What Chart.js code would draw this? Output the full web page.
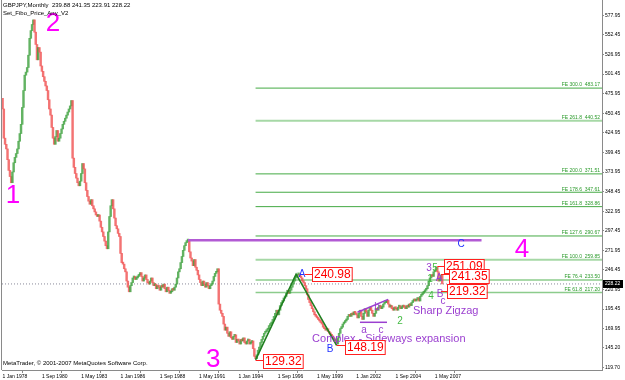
<!DOCTYPE html>
<html>
<head>
<meta charset="utf-8">
<script src="https://cdn.jsdelivr.net/npm/chart.js@4/dist/chart.umd.min.js"></script>
<style>
  html, body { margin: 0; padding: 0; background: #fff; }
  #wrap { width: 625px; height: 380px; }
</style>
</head>
<body>
<div id="wrap"><canvas id="chart" width="625" height="380"></canvas></div>
<script>
// GBPJPY monthly closes, Jan 1978 .. Nov 2007
const firstOpen = 470;
const closes = [
  456, 418, 410, 404, 390, 376, 368, 360, 374, 386, 393, 398,
  404, 414, 424, 436, 458, 480, 500, 504, 510, 526, 548, 558,
  566, 572, 556, 540, 520, 536, 530, 512, 505, 498, 492, 486,
  480, 468, 456, 448, 432, 418, 410, 420, 428, 414, 418, 424,
  430, 436, 440, 444, 448, 452, 456, 460, 467, 392, 380, 372,
  366, 360, 356, 362, 372, 385, 378, 360, 350, 342, 336, 332,
  338, 330, 326, 322, 318, 316, 318, 310, 302, 296, 290, 284,
  278, 274, 296, 316, 330, 338, 326, 314, 304, 300, 294, 290,
  268, 256, 254, 248, 244, 232, 224, 218, 226, 230, 236, 238,
  234, 236, 238, 240, 243, 238, 232, 236, 240, 234, 230, 228,
  232, 236, 230, 226, 228, 222, 226, 224, 220, 226, 224, 228,
  222, 218, 224, 220, 216, 218, 222, 220, 224, 228, 236, 244,
  248, 256, 264, 272, 278, 282, 284, 285, 270, 262, 258, 252,
  260, 250, 246, 240, 234, 230, 226, 232, 228, 224, 230, 226,
  222, 226, 228, 232, 238, 242, 244, 248, 202, 194, 190, 186,
  176, 168, 172, 164, 160, 166, 158, 156, 160, 162, 152, 156,
  154, 150, 156, 154, 158, 152, 150, 154, 156, 150, 152, 154,
  144, 134, 131, 136, 142, 146, 152, 156, 160, 164, 166, 168,
  170, 174, 176, 178, 182, 186, 190, 194, 188, 194, 200, 204,
  206, 210, 212, 216, 220, 216, 220, 224, 228, 232, 236, 238,
  240, 241, 238, 236, 232, 230, 226, 222, 214, 208, 204, 200,
  196, 192, 188, 186, 184, 182, 180, 178, 176, 172, 170, 168,
  170, 166, 164, 162, 160, 158, 154, 156, 150, 158, 164, 170,
  172, 176, 178, 180, 182, 186, 188, 186, 190, 188, 192, 190,
  188, 184, 190, 194, 186, 182, 190, 196, 192, 186, 194, 198,
  194, 190, 186, 190, 196, 194, 198, 200, 196, 198, 202, 204,
  204, 207, 202, 198, 200, 196, 194, 198, 196, 194, 198, 200,
  196, 198, 200, 198, 196, 200, 198, 202, 200, 204, 206, 208,
  206, 208, 210, 206, 212, 214, 216, 218, 220, 222, 226, 232,
  236, 240, 238, 244, 246, 250, 244, 232, 236, 239.88, 228.22
];
const lastPrice = 228.22;

const xTickIdx = [0, 32, 64, 96, 128, 160, 192, 224, 256, 288, 320, 352];
const xTickLabels = ['1 Jan 1978', '1 Sep 1980', '1 May 1983', '1 Jan 1986', '1 Sep 1988', '1 May 1991',
  '1 Jan 1994', '1 Sep 1996', '1 May 1999', '1 Jan 2002', '1 Sep 2004', '1 May 2007'];
const yTicks = [577.95, 552.45, 526.95, 501.45, 475.95, 450.45, 424.95, 399.45, 373.95, 348.45,
  322.95, 297.45, 271.95, 246.45, 220.95, 195.45, 169.95, 145.20, 119.70];

// Fibonacci expansion levels
const feRatios = ['300.0', '261.8', '200.0', '178.6', '161.8', '127.6', '100.0', '76.4', '61.8'];
const feLevels = [483.17, 440.52, 371.51, 347.61, 328.86, 290.67, 259.85, 233.50, 217.20];
const feStartIdx = 206;

// wave pivots (month index, price)
const zigzagIdx = [206, 239, 272];
const zigzagVals = [129.32, 240.98, 148.19];
const cLineIdx = [151, 390];
const cLineVal = 285;
const triUpperIdx = [289, 314];
const triUpperVals = [191.3, 208.2];
const triLowerIdx = [291, 313];
const triLowerVals = [178.3, 178.3];

// price boxes
const boxTexts = ['129.32', '240.98', '148.19', '251.09', '241.35', '219.32'];
const boxIdx = [206, 246, 272, 354, 357, 357];
const boxVals = [129.32, 240.98, 148.19, 251.09, 241.35, 219.32];

const xMin = -0.49, xMax = 488.1;
const yMin = 116.19, yMax = 597.87;
const FONT = '"Liberation Sans", Arial, sans-serif';

const candleData = closes.map((c, i) => ({ x: i, y: [i === 0 ? firstOpen : closes[i - 1], c] }));
const candleColors = candleData.map(d => d.y[1] >= d.y[0] ? 'rgba(60,160,60,0.8)' : 'rgba(240,80,80,0.8)');

function hline(v, a, b) { return [{ x: a, y: v }, { x: b, y: v }]; }
function lineSet(data, color, width, order, dash) {
  return { type: 'line', data: data, borderColor: color, borderWidth: width, pointRadius: 0,
    fill: false, tension: 0, order: order, borderDash: dash || [] };
}

const feStyles = feLevels.map((v, k) => {
  if (k === 1 || k === 6) return ['#a6d8a6', 2];
  if (k === 7 || k === 8) return ['#8ccc8c', 1.5];
  return ['#44aa44', 1];
});

const datasets = [
  { type: 'bar', data: candleData, backgroundColor: candleColors, barThickness: 1.8,
    minBarLength: 2, order: 5 }
];
feLevels.forEach((v, k) => datasets.push(lineSet(hline(v, feStartIdx, xMax), feStyles[k][0], feStyles[k][1], 10)));
datasets.push(lineSet(hline(lastPrice, xMin, xMax), '#8a8a9a', 1, 11, [1, 2]));
datasets.push(lineSet(hline(cLineVal, cLineIdx[0], cLineIdx[1]), '#b25ad4', 2.5, 3));
datasets.push(lineSet(zigzagIdx.map((x, k) => ({ x: x, y: zigzagVals[k] })), '#1f7f1f', 1.6, 2));
datasets.push(lineSet(triUpperIdx.map((x, k) => ({ x: x, y: triUpperVals[k] })), '#9b3fd0', 1.5, 2));
datasets.push(lineSet(triLowerIdx.map((x, k) => ({ x: x, y: triLowerVals[k] })), '#9b3fd0', 1.5, 2));

// text notes: text, month index, price, colour, size
const notes = [
  ['1', 8.5, 342.7, '#ff00ff', 26], ['2', 41, 566.6, '#ff00ff', 26],
  ['3', 171.5, 130, '#ff00ff', 26], ['4', 423, 272.4, '#ff00ff', 26],
  ['A', 243.8, 241.2, '#2233ff', 10], ['B', 266.6, 143.6, '#2233ff', 10], ['C', 373.3, 280.2, '#2233ff', 10],
  ['2', 323.6, 179.9, '#44bb44', 10],
  ['a', 294.3, 168.3, '#9b3fd0', 10], ['b', 304.9, 198.2, '#9b3fd0', 10], ['c', 308.1, 168.3, '#9b3fd0', 10],
  ['3', 347.2, 248.5, '#9b3fd0', 10], ['5', 352.1, 248.5, '#44bb44', 10],
  ['1', 348, 234.5, '#44bb44', 10], ['A', 355.4, 235.5, '#9b3fd0', 10],
  ['4', 348.9, 212.7, '#44bb44', 10], ['B', 356.2, 215.3, '#9b3fd0', 10], ['c', 358.6, 205.5, '#9b3fd0', 10]
];
const captions = [
  ['Complex - Sideways expansion', 252, 156.7],
  ['Sharp Zigzag', 334.2, 192.6]
];

const overlay = {
  id: 'overlay',
  beforeDatasetsDraw(chart) {
    const { ctx, chartArea: a } = chart;
    ctx.save();
    ctx.strokeStyle = '#8a8a8a';
    ctx.lineWidth = 1;
    ctx.beginPath();
    ctx.moveTo(a.left - 0.5, a.top);
    ctx.lineTo(a.left - 0.5, a.bottom);
    ctx.stroke();
    ctx.restore();
  },
  afterDatasetsDraw(chart) {
    const { ctx, chartArea: a, scales: { x, y } } = chart;
    ctx.save();
    // FE labels
    ctx.font = '5px ' + FONT;
    ctx.fillStyle = '#2a9a2a';
    ctx.textAlign = 'right';
    ctx.textBaseline = 'bottom';
    feLevels.forEach((v, k) => {
      ctx.fillText('FE ' + feRatios[k] + '  ' + v.toFixed(2), a.right - 2, y.getPixelForValue(v) - 0.5);
    });
    // wave notes
    ctx.textAlign = 'center';
    ctx.textBaseline = 'middle';
    notes.forEach(n => {
      ctx.font = n[4] + 'px ' + FONT;
      ctx.fillStyle = n[3];
      ctx.fillText(n[0], x.getPixelForValue(n[1]), y.getPixelForValue(n[2]));
    });
    ctx.font = '11px ' + FONT;
    ctx.fillStyle = '#9b3fd0';
    ctx.textAlign = 'left';
    captions.forEach(c => ctx.fillText(c[0], x.getPixelForValue(c[1]), y.getPixelForValue(c[2])));
    // price boxes
    const dxs = [7, 7, 8, 7, 8, 6], dys = [1, 0, 2, 0, 2, 0];
    ctx.font = '12px ' + FONT;
    boxTexts.forEach((t, k) => {
      const px = x.getPixelForValue(boxIdx[k]), py = y.getPixelForValue(boxVals[k]);
      const w = ctx.measureText(t).width + 3, h = 14;
      const bx = Math.round(px + dxs[k]), by = Math.round(py + dys[k] - h / 2);
      ctx.strokeStyle = '#ff2020';
      ctx.lineWidth = 1;
      ctx.beginPath();
      ctx.moveTo(px, Math.round(py) + 0.5);
      ctx.lineTo(bx, Math.round(py) + 0.5);
      ctx.stroke();
      ctx.fillStyle = '#ffffff';
      ctx.fillRect(bx, by, w, h);
      ctx.strokeRect(bx + 0.5, by + 0.5, w, h);
      ctx.fillStyle = '#ff0000';
      ctx.textBaseline = 'middle';
      ctx.fillText(t, bx + 2, by + h / 2 + 1);
    });
    ctx.restore();
  },
  afterDraw(chart) {
    const { ctx, chartArea: a, scales: { y } } = chart;
    ctx.save();
    ctx.fillStyle = '#000';
    ctx.textAlign = 'left';
    ctx.textBaseline = 'top';
    ctx.font = '6px ' + FONT;
    ctx.fillText('GBPJPY,Monthly  239.88 241.35 223.91 228.22', 3, 2);
    ctx.fillText('Set_Fibo_Price_Any_V2', 3, 10);
    ctx.fillText('MetaTrader, \u00a9 2001-2007 MetaQuotes Software Corp.', 3, 360.5);
    // last price tag on the axis
    const py = Math.round(y.getPixelForValue(lastPrice));
    ctx.fillRect(a.right + 1, py - 4, 20, 8);
    ctx.fillStyle = '#fff';
    ctx.font = '5px ' + FONT;
    ctx.textBaseline = 'middle';
    ctx.fillText(lastPrice.toFixed(2), a.right + 3, py);
    ctx.restore();
  }
};

new Chart(document.getElementById('chart'), {
  type: 'bar',
  data: { datasets: datasets },
  plugins: [overlay],
  options: {
    responsive: false,
    animation: false,
    layout: { padding: { left: 2, top: 0, right: 0, bottom: 0 } },
    plugins: { legend: { display: false }, tooltip: { enabled: false } },
    scales: {
      x: {
        type: 'linear', min: xMin, max: xMax, offset: false,
        grid: { drawOnChartArea: false, drawTicks: true, tickLength: 3, color: '#8a8a8a' },
        border: { display: true, color: '#8a8a8a' },
        ticks: {
          font: { family: FONT, size: 5 }, color: '#000', align: 'start', padding: 1,
          maxRotation: 0, autoSkip: false,
          callback: (v) => { const k = xTickIdx.indexOf(v); return k >= 0 ? xTickLabels[k] : ''; }
        },
        afterBuildTicks: (s) => { s.ticks = xTickIdx.map(v => ({ value: v })); },
        afterFit: (s) => { s.height = 10; s.paddingLeft = 0; s.paddingRight = 0; }
      },
      y: {
        position: 'right', min: yMin, max: yMax,
        grid: { drawOnChartArea: false, drawTicks: true, tickLength: 2, color: '#8a8a8a' },
        border: { display: true, color: '#8a8a8a' },
        ticks: { font: { family: FONT, size: 5 }, color: '#000', padding: 1, callback: (v) => v.toFixed(2) },
        afterBuildTicks: (s) => { s.ticks = yTicks.map(v => ({ value: v })); },
        afterFit: (s) => { s.width = 23; s.paddingTop = 0; s.paddingBottom = 0; }
      }
    }
  }
});
</script>
</body>
</html>
